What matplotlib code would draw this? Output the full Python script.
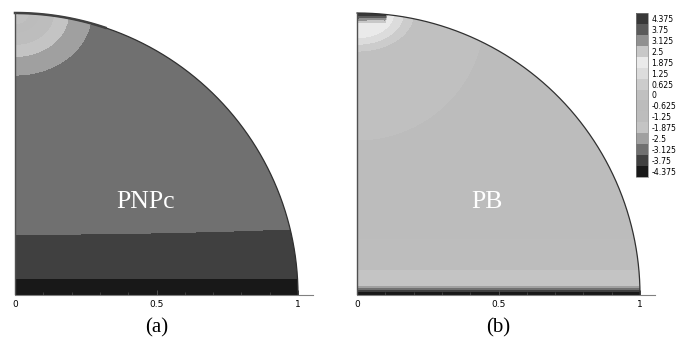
import numpy as np
import matplotlib
matplotlib.use('Agg')
import matplotlib.pyplot as plt
from matplotlib.colors import ListedColormap, BoundaryNorm
from matplotlib.patches import Polygon
from matplotlib.cm import ScalarMappable

# contour levels (one colour per level value, as in the legend)
level_values = [-4.375, -3.75, -3.125, -2.5, -1.875, -1.25, -0.625, 0,
                0.625, 1.25, 1.875, 2.5, 3.125, 3.75, 4.375]
level_labels = ['-4.375', '-3.75', '-3.125', '-2.5', '-1.875', '-1.25', '-0.625', '0',
                '0.625', '1.25', '1.875', '2.5', '3.125', '3.75', '4.375']
level_greys = [0x18, 0x40, 0x70, 0xa0, 0xc4, 0xbd, 0xbc, 0xc0,
               0xcc, 0xdc, 0xea, 0xc8, 0x90, 0x5a, 0x38]

# PNPc: bands along y near the bottom wall (y position, value)
pnpc_band_y = [0.0, 0.06, 0.215, 0.40, 1.0]
pnpc_band_v = [-4.7, -4.0625, -3.4375, -3.125, -3.125]
# PNPc: bump near the pole (0,1), elliptic radius -> value
pnpc_bump_ax = (0.27, 0.22)
pnpc_bump_e = [0.0, 0.3, 0.7, 1.0, 1.4, 1.6]
pnpc_bump_v = [0.5, -0.9, -2.1875, -2.8125, -3.2, -10]

# PB: bands near the bottom wall
pb_band_y = [0.0, 0.011, 0.018, 0.025, 0.035, 0.09, 0.2, 1.0]
pb_band_v = [-4.8, -4.0625, -3.4375, -2.8125, -2.1875, -1.5625, -0.9375, 0.5]
# PB: background, distance from the pole -> value
pb_base_d = [0.0, 0.45, 1.5]
pb_base_v = [0.2, -0.3125, -0.5]
# PB: light bump near the pole
pb_bump_ax = (0.2, 0.135)
pb_bump_e = [0.0, 0.65, 0.82, 1.0, 1.3, 1.6]
pb_bump_v = [2.1, 1.5625, 0.9375, 0.3125, -0.5, -10]

n = 900
xs = np.linspace(0, 1, n)
X, Y = np.meshgrid(xs, xs)
S = 1 - np.sqrt(X**2 + Y**2)   # depth below the curved surface

def ell(ax_):
    return np.sqrt((X / ax_[0])**2 + ((1 - Y) / ax_[1])**2)

tilt = 0.02 * X**2 * np.clip((Y - 0.06) / 0.1, 0, 1)
f_a = np.maximum(np.interp(Y - tilt, pnpc_band_y, pnpc_band_v),
                 np.interp(ell(pnpc_bump_ax), pnpc_bump_e, pnpc_bump_v))

f_b = np.minimum(np.interp(np.sqrt(X**2 + (1 - Y)**2), pb_base_d, pb_base_v),
                 np.interp(Y, pb_band_y, pb_band_v))
f_b = np.maximum(f_b, np.interp(ell(pb_bump_ax), pb_bump_e, pb_bump_v))
f_top = 4.8 - 75 * S - 5 * X - 300 * np.clip(X - 0.1, 0, None)
f_b = np.maximum(f_b, f_top)

bounds = np.concatenate([[-10], np.array(level_values[:-1]) + 0.3125, [10]])
cmap = ListedColormap([(g / 255, g / 255, g / 255) for g in level_greys])
norm = BoundaryNorm(bounds, cmap.N)

W, H = 677, 343
fig = plt.figure(figsize=(W / 100, H / 100), dpi=100)
rx, ry = 283, 282

def make_ax(x0):
    xl, xr, yt = -0.02, 1.08, 1.02
    ax = fig.add_axes([(x0 + xl * rx) / W, 48 / H, (xr - xl) * rx / W, yt * ry / H])
    ax.set_xlim(xl, xr)
    ax.set_ylim(0, yt)
    return ax

t = np.linspace(0, np.pi / 2, 400)
wedge = np.vstack([[[0, 0]], np.column_stack([np.cos(t), np.sin(t)])])

for x0, field, name, tag in [(15, f_a, 'PNPc', '(a)'), (357, f_b, 'PB', '(b)')]:
    ax = make_ax(x0)
    cs = ax.contourf(X, Y, field, levels=bounds, cmap=cmap, norm=norm)
    clip = Polygon(wedge, closed=True, transform=ax.transData, facecolor='none', edgecolor='none')
    ax.add_patch(clip)
    cs.set_clip_path(clip)
    ax.plot(np.cos(t), np.sin(t), color='#303030', lw=0.9)
    if name == 'PNPc':
        tt = np.linspace(np.arccos(0.32), np.pi / 2, 60)
        ax.plot(np.cos(tt), np.sin(tt), color='#404040', lw=1.8)
    ax.plot([0, 0], [0, 1], color='#505050', lw=1.0)
    ax.text(0.46, 0.33, name, color='white', fontsize=18.5, family='Liberation Serif',
            ha='center', va='center')
    ax.text(0.50, -0.115, tag, fontsize=15, family='Liberation Serif',
            ha='center', va='center', transform=ax.transData, clip_on=False)
    for s in ['top', 'left', 'right']:
        ax.spines[s].set_visible(False)
    ax.spines['bottom'].set_bounds(0, 1.053)
    ax.spines['bottom'].set_color('#808080')
    ax.spines['bottom'].set_linewidth(0.8)
    ax.set_yticks([])
    ax.set_xticks([0, 0.5, 1])
    ax.set_xticklabels(['0', '0.5', '1'])
    ax.set_xticks(np.arange(0, 1.01, 0.1), minor=True)
    ax.tick_params(axis='x', which='major', direction='in', length=3.8, width=0.7,
                   color='#505050', labelsize=6.5, pad=3.5)
    ax.tick_params(axis='x', which='minor', direction='in', length=2.2, width=0.5,
                   color='#505050')

cax = fig.add_axes([636 / W, (H - 177) / H, 12 / W, 164 / H])
sm = ScalarMappable(norm=BoundaryNorm(np.arange(-4.6875, 4.7, 0.625), cmap.N), cmap=cmap)
cb = fig.colorbar(sm, cax=cax, ticks=level_values)
cb.set_ticklabels(level_labels)
cb.ax.tick_params(length=0, labelsize=5.6, pad=2.5)
cb.ax.minorticks_off()
cb.outline.set_linewidth(0.5)
cb.outline.set_edgecolor('#808080')

fig.savefig('out.png', dpi=100)
